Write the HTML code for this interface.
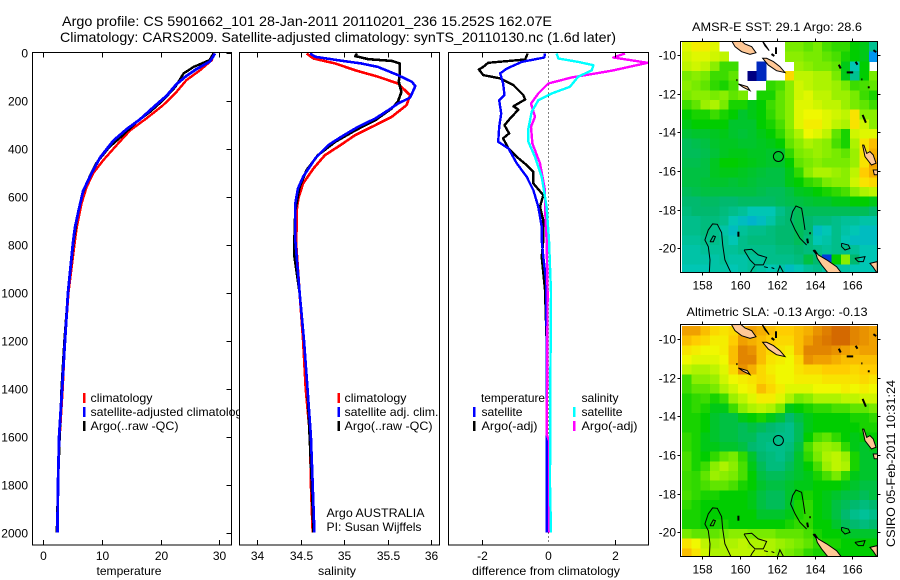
<!DOCTYPE html>
<html>
<head>
<meta charset="utf-8">
<title>Argo profile CS 5901662_101</title>
<style>
html,body{margin:0;padding:0;background:#fff;}
svg{display:block;font-family:"Liberation Sans",sans-serif;font-size:12px;fill:#000;}
.frame{fill:none;stroke:#000;stroke-width:1;shape-rendering:crispEdges;}
.bg{fill:#fff;stroke:none;}
.bar{shape-rendering:crispEdges;}
</style>
</head>
<body>
<svg id="chart" xmlns="http://www.w3.org/2000/svg" width="900" height="580" viewBox="0 0 900 580">
<defs>
<clipPath id="clip-p1"><rect x="32" y="52" width="199" height="493"/></clipPath>
<clipPath id="clip-p2"><rect x="239" y="52" width="201" height="493"/></clipPath>
<clipPath id="clip-p3"><rect x="448" y="52" width="201" height="493"/></clipPath>
<clipPath id="clip-m1"><rect x="681" y="42" width="196" height="230"/></clipPath>
<clipPath id="clip-m2"><rect x="681" y="325" width="196" height="231"/></clipPath>
</defs>
<rect x="0" y="0" width="900" height="580" fill="#fff"/>
<text x="62" y="26" font-size="14" textLength="490" lengthAdjust="spacingAndGlyphs">Argo profile: CS 5901662_101 28-Jan-2011 20110201_236 15.252S 162.07E</text>
<text x="60" y="42" font-size="14" textLength="556" lengthAdjust="spacingAndGlyphs">Climatology: CARS2009. Satellite-adjusted climatology: synTS_20110130.nc (1.6d later)</text>

<g id="p1">
<rect class="bg" x="32.5" y="52.5" width="199" height="492.5"/>
<g id="p1-series" clip-path="url(#clip-p1)"></g>
<g id="p1-ticks"></g>
<rect class="frame" x="32.5" y="52.5" width="199" height="492.5"/>
<g>
<rect class="bar" x="83" y="393" width="2.5" height="10" fill="#f00"/>
<rect class="bar" x="83" y="407" width="2.5" height="10" fill="#00f"/>
<rect class="bar" x="83" y="421" width="2.5" height="10" fill="#000"/>
<text x="90.5" y="402" textLength="62" lengthAdjust="spacingAndGlyphs">climatology</text>
<text x="90.5" y="416" textLength="158" lengthAdjust="spacingAndGlyphs">satellite-adjusted climatology</text>
<text x="90.5" y="430" textLength="88" lengthAdjust="spacingAndGlyphs">Argo(..raw -QC)</text>
</g>
<text x="129" y="575" text-anchor="middle" textLength="65" lengthAdjust="spacingAndGlyphs">temperature</text>
</g>

<g id="p2">
<rect class="bg" x="239.5" y="52.5" width="200" height="492.5"/>
<g id="p2-series" clip-path="url(#clip-p2)"></g>
<g id="p2-ticks"></g>
<rect class="frame" x="239.5" y="52.5" width="200" height="492.5"/>
<g>
<rect class="bar" x="337.5" y="393" width="2.5" height="10" fill="#f00"/>
<rect class="bar" x="337.5" y="407" width="2.5" height="10" fill="#00f"/>
<rect class="bar" x="337.5" y="421" width="2.5" height="10" fill="#000"/>
<text x="344.5" y="402" textLength="62" lengthAdjust="spacingAndGlyphs">climatology</text>
<text x="344.5" y="416" textLength="94" lengthAdjust="spacingAndGlyphs">satellite adj. clim.</text>
<text x="344.5" y="430" textLength="88" lengthAdjust="spacingAndGlyphs">Argo(..raw -QC)</text>
</g>
<text x="326.5" y="517" textLength="98" lengthAdjust="spacingAndGlyphs">Argo AUSTRALIA</text>
<text x="326.5" y="531" textLength="95" lengthAdjust="spacingAndGlyphs">PI: Susan Wijffels</text>
<text x="337" y="575" text-anchor="middle" textLength="38" lengthAdjust="spacingAndGlyphs">salinity</text>
</g>

<g id="p3">
<rect class="bg" x="448.5" y="52.5" width="200" height="492.5"/>
<g id="p3-series" clip-path="url(#clip-p3)"></g>
<g id="p3-ticks"></g>
<rect class="frame" x="448.5" y="52.5" width="200" height="492.5"/>
<g>
<text x="481" y="402" textLength="64" lengthAdjust="spacingAndGlyphs">temperature</text>
<text x="581.5" y="402" textLength="37" lengthAdjust="spacingAndGlyphs">salinity</text>
<rect class="bar" x="473" y="407" width="2.5" height="10" fill="#00f"/>
<rect class="bar" x="473" y="421" width="2.5" height="10" fill="#000"/>
<rect class="bar" x="573" y="407" width="2.5" height="10" fill="#0ff"/>
<rect class="bar" x="573" y="421" width="2.5" height="10" fill="#f0f"/>
<text x="481.5" y="416" textLength="41" lengthAdjust="spacingAndGlyphs">satellite</text>
<text x="481.5" y="430" textLength="56" lengthAdjust="spacingAndGlyphs">Argo(-adj)</text>
<text x="581.5" y="416" textLength="41" lengthAdjust="spacingAndGlyphs">satellite</text>
<text x="581.5" y="430" textLength="56" lengthAdjust="spacingAndGlyphs">Argo(-adj)</text>
</g>
<text x="546" y="575" text-anchor="middle" textLength="148" lengthAdjust="spacingAndGlyphs">difference from climatology</text>
</g>

<g id="m1">
<text x="777" y="31" text-anchor="middle" textLength="170" lengthAdjust="spacingAndGlyphs">AMSR-E SST: 29.1 Argo: 28.6</text>
<g id="m1-marks" clip-path="url(#clip-m1)"></g>
<g id="m1-ticks"></g>
<rect class="frame" x="680.5" y="41.5" width="197" height="231"/>
</g>

<g id="m2">
<text x="777" y="316" text-anchor="middle" textLength="181" lengthAdjust="spacingAndGlyphs">Altimetric SLA: -0.13 Argo: -0.13</text>
<g id="m2-marks" clip-path="url(#clip-m2)"></g>
<g id="m2-ticks"></g>
<rect class="frame" x="680.5" y="324.5" width="197" height="232"/>
</g>

<text transform="translate(895,547) rotate(-90)" textLength="167" lengthAdjust="spacingAndGlyphs">CSIRO 05-Feb-2011 10:31:24</text>
</svg>

<script>
// ---------- axis tick labels ----------
const depthTicks = [0,200,400,600,800,1000,1200,1400,1600,1800,2000];
const tempTicks = [0,10,20,30];
const salTicks = [34,34.5,35,35.5,36];
const diffTicks = [-2,0,2];
const lonTicks = [158,160,162,164,166];
const latTicks = [-10,-12,-14,-16,-18,-20];

// ---------- temperature profiles ----------
const tempClimDepth = [4,32,74,115,164,220,274,324,386,449,503,560,629,727,782,1000,1200,1400,1600,1800,2000];
const tempClimValues = [29.1,28.7,26.7,24.4,22.7,20.4,17.6,14.8,12.5,10.2,8.5,7.4,6.5,5.7,5.4,4.3,3.7,3.3,2.8,2.5,2.4];
const tempArgoDepth = [4,32,60,87,143,199,247,289,344,393,462,532,601,698,782,1000,1200,1400,1600,1800,2000];
const tempArgoValues = [29.0,28.3,25.6,23.9,22.5,20.4,18.2,15.9,13.6,11.3,9.0,7.6,6.5,5.7,5.2,4.2,3.6,3.1,2.8,2.5,2.3];
const tempSatDepth = [4,37,69,97,132,180,229,278,319,368,437,500,576,660,729,785,1000,1200,1400,1600,1800,2000];
const tempSatValues = [29.25,28.4,26.1,24.4,22.7,21.0,18.7,16.5,14.2,11.9,9.7,8.3,6.8,6.0,5.4,5.1,4.2,3.7,3.2,2.7,2.5,2.4];

// ---------- salinity profiles ----------
const salClimDepth = [4,25,46,74,101,129,178,219,268,303,344,393,428,483,546,601,643,800,1000,1200,1400,1600,1800,2000];
const salClimValues = [34.57,34.65,34.90,35.13,35.39,35.62,35.76,35.72,35.55,35.36,35.13,34.93,34.78,34.65,34.53,34.48,34.46,34.45,34.49,34.53,34.56,34.61,34.62,34.64];
const salArgoDepth = [4,15,28,35,46,87,122,164,205,233,282,324,372,428,490,560,657,782,850,1000,1200,1400,1800,2000];
const salArgoValues = [35.15,35.13,35.28,35.55,35.64,35.64,35.63,35.66,35.62,35.55,35.36,35.13,34.90,34.70,34.57,34.49,34.44,34.43,34.43,34.49,34.54,34.58,34.63,34.65];
const salSatDepth = [4,18,32,46,60,94,122,140,188,213,240,275,310,351,386,441,518,567,629,782,1000,1200,1400,1600,1800,2000];
const salSatValues = [34.61,34.67,34.93,35.20,35.39,35.62,35.78,35.82,35.76,35.62,35.51,35.36,35.16,34.97,34.82,34.67,34.53,34.47,34.44,34.44,34.49,34.54,34.58,34.62,34.64,34.66];

// ---------- difference profiles ----------
const diffTempArgoDepth = [4,29,43,60,71,94,108,136,178,196,224,238,275,303,337,358,400,435,469,497,546,594,643,699,782,851,990,1200,1600,2000];
const diffTempArgoValues = [-0.62,-0.70,-1.81,-1.96,-2.09,-1.96,-1.45,-1.05,-0.75,-0.70,-1.05,-0.90,-1.15,-1.32,-1.18,-1.36,-1.20,-0.95,-0.65,-0.45,-0.45,-0.15,-0.25,-0.15,-0.15,-0.20,-0.10,-0.05,-0.05,-0.05];
const diffTempSatDepth = [4,21,39,67,87,129,178,199,254,310,372,400,462,518,574,643,726,782,851,949,1200,1600,2000];
const diffTempSatValues = [-0.10,-0.12,-0.80,-1.25,-1.45,-1.36,-1.32,-1.48,-1.42,-1.48,-1.51,-1.20,-0.95,-0.65,-0.45,-0.30,-0.20,-0.20,-0.15,-0.07,-0.05,-0.05,-0.05];
const diffSalSatDepth = [4,25,39,53,74,101,143,171,199,247,317,372,435,518,643,782,1000,1400,1800,2000];
const diffSalSatValues = [0.25,0.30,0.90,1.36,1.31,0.90,0.65,0.10,-0.30,-0.50,-0.60,-0.60,-0.40,-0.20,-0.05,0.02,0.08,0.06,0.05,0.08];
const diffSalArgoDepth = [4,21,43,76,104,129,171,213,268,310,379,462,574,643,782,1000,1300,1590,1620,2000];
const diffSalArgoValues = [2.31,1.96,2.99,1.91,0.70,0.00,-0.30,-0.52,-0.40,-0.52,-0.48,-0.25,-0.10,-0.10,-0.05,-0.02,-0.03,-0.05,0.03,0.03];

// ---------- SST map: colour-scale index per 0.5 degree cell, north to south (null = no data) ----------
const sstGrid = [
[72,76,76,72,null,null,null,null,null,null,null,60,60,58,60,56,54,54,50,48,35],
[70,72,72,70,68,null,null,null,null,null,null,62,62,60,60,58,56,52,50,48,20],
[68,70,68,62,55,55,null,null,5,null,null,null,64,62,60,60,58,48,30,50,null],
[60,62,60,55,55,58,null,0,5,null,null,80,68,68,66,66,60,48,35,50,60],
[62,60,58,54,52,56,null,null,null,54,56,62,70,68,66,66,64,60,55,56,58],
[60,62,62,60,62,58,60,null,52,52,58,62,70,72,68,68,64,64,60,55,52],
[55,58,64,66,60,52,52,48,50,55,58,62,72,72,70,68,68,64,60,58,55],
[50,52,52,55,52,50,46,48,50,54,58,62,72,74,74,72,70,68,78,62,62],
[48,50,50,50,50,46,46,46,50,52,56,62,72,76,76,72,68,66,78,70,62],
[45,46,46,47,48,46,45,46,48,50,54,60,66,74,72,68,58,52,70,72,72],
[42,43,44,46,47,47,46,46,47,48,50,58,62,66,64,62,56,52,66,78,84],
[42,42,43,45,47,48,48,47,47,46,46,54,60,62,64,62,60,58,64,78,86],
[43,43,44,47,50,50,49,48,47,46,46,50,58,60,62,60,60,60,64,78,88],
[44,44,44,47,48,48,47,46,45,44,44,48,54,62,66,66,64,62,68,82,86],
[44,44,45,46,46,45,46,45,44,44,44,48,50,54,56,60,62,62,70,78,80],
[42,43,44,44,44,44,44,44,43,42,42,44,47,48,50,52,54,56,62,66,68],
[40,40,41,41,40,40,41,41,41,41,42,43,44,45,46,46,48,48,50,50,48],
[38,40,40,40,38,36,34,30,30,30,36,40,42,42,42,42,42,42,42,42,40],
[36,36,38,38,36,30,28,26,28,32,38,40,42,40,38,38,36,34,34,32,32],
[36,36,38,36,32,28,34,36,36,38,40,40,42,40,28,30,36,32,30,28,28],
[34,34,36,36,34,30,36,38,38,38,40,40,42,38,30,32,36,30,28,28,28],
[32,32,34,34,34,34,36,36,36,36,38,38,40,38,36,34,36,36,34,30,30],
[32,32,32,32,34,32,32,34,34,36,36,36,38,44,40,10,50,62,40,30,30],
[30,30,30,32,32,30,32,34,32,30,32,28,30,34,36,32,32,32,30,30,30]
];

// ---------- SLA map: colour-scale index per 0.5 degree cell, north to south ----------
const slaGrid = [
[88,88,84,80,78,80,86,88,86,84,82,82,84,86,90,93,96,96,92,90,88],
[84,82,80,76,76,82,88,86,84,82,80,80,84,88,92,94,96,96,92,90,88],
[78,76,74,74,76,84,92,90,84,80,78,76,84,92,92,92,90,88,86,88,88],
[74,72,72,72,74,84,92,92,84,78,76,74,80,90,88,88,86,84,84,84,84],
[68,66,66,68,72,80,90,86,80,76,74,74,78,80,80,82,82,82,80,82,82],
[55,62,62,64,70,74,76,78,80,78,74,74,76,76,76,78,78,78,78,80,78],
[55,58,58,60,66,70,74,76,84,80,76,72,72,72,74,74,74,76,74,76,74],
[52,54,55,52,55,64,68,72,76,76,72,66,60,62,66,66,66,68,68,70,70],
[52,54,52,48,48,55,62,66,68,66,60,48,50,52,54,54,56,56,58,58,60],
[52,52,50,46,44,44,48,50,52,48,45,40,44,48,50,50,50,50,52,52,54],
[52,52,50,46,44,44,42,44,42,40,38,36,42,48,50,50,50,50,50,52,52],
[54,52,48,46,44,44,42,42,38,38,36,36,42,50,56,58,54,50,48,50,50],
[54,52,48,48,46,46,44,40,38,36,36,38,44,56,62,64,62,54,48,46,48],
[56,52,50,54,58,60,54,46,40,38,36,40,46,54,60,66,68,64,52,46,46],
[56,52,55,62,66,62,56,48,42,38,38,42,46,50,56,64,68,66,52,46,46],
[55,54,58,64,62,60,56,50,44,42,42,44,46,48,52,56,60,54,48,46,46],
[55,54,56,58,58,56,52,50,46,44,44,46,48,48,50,50,50,48,46,44,44],
[56,54,52,52,50,50,50,48,44,42,42,46,50,52,50,48,46,44,44,42,44],
[54,52,50,50,50,50,50,48,44,42,42,46,52,54,50,48,44,42,40,38,40],
[52,52,50,50,50,50,50,50,46,46,46,48,52,54,50,48,44,40,36,34,36],
[52,52,50,52,52,50,50,50,50,50,50,52,54,54,50,50,46,42,40,38,40],
[60,58,58,58,60,62,62,60,60,60,58,58,58,56,52,50,50,48,46,46,46],
[78,74,68,64,66,66,68,66,66,66,64,62,60,58,54,52,52,50,50,50,50],
[84,78,70,66,66,68,68,68,68,66,62,60,58,54,52,52,50,50,50,50,50]
];

// ---------- geography (lon, lat) ----------
const landLons = [
[159.53,159.75,160.10,160.55,160.87,160.64,160.28,160.01],
[161.23,161.53,161.97,162.42,162.15,161.80,161.44],
[161.17,161.44,161.58,161.35],
[159.93,160.19,160.55,160.41],
[166.57,166.70,167.05,167.29,167.14,166.97,166.79,166.64],
[164.02,164.20,164.65,165.18,165.54,164.83,164.38,164.15],
[166.97,167.36,167.36,167.14],
[167.14,167.40,167.40,167.20]
];
const landLats = [
[-9.20,-9.57,-9.83,-9.97,-9.88,-9.57,-9.43,-9.20],
[-10.17,-10.52,-10.81,-10.91,-10.60,-10.34,-10.17],
[-9.20,-9.57,-9.78,-9.53],
[-11.50,-11.67,-11.84,-11.64],
[-14.66,-15.26,-15.69,-15.60,-15.17,-15.00,-15.09,-14.66],
[-20.09,-20.34,-20.60,-20.95,-21.40,-21.40,-20.86,-20.52],
[-20.78,-20.69,-21.30,-20.98],
[-15.95,-15.95,-16.20,-16.20]
];
const contourLons = [
[158.37,158.41,158.32,158.14,158.32,158.55,158.80,159.03,159.09,159.21,159.60],
[158.41,158.59,158.70,158.59,158.41],
[160.23,160.64,160.99,161.44,161.26,160.82,160.55,160.23],
[161.97,162.15,162.42],
[163.58,163.22,162.96,162.72,162.83,163.01,163.31,163.40,163.49],
[165.45,165.81,165.90,165.63,165.45,165.45],
[166.16,166.70,166.61,166.34,166.16],
[160.80,160.65,160.55],
[161.30,161.50],
[161.70,161.85]
];
const contourLats = [
[-21.40,-20.60,-19.91,-19.57,-19.05,-18.74,-18.76,-19.19,-19.83,-20.60,-21.40],
[-19.66,-19.36,-19.40,-19.66,-19.66],
[-20.09,-20.05,-20.34,-20.47,-20.86,-20.86,-20.60,-20.09],
[-21.40,-20.91,-21.40],
[-19.83,-19.48,-19.05,-18.53,-18.10,-17.81,-17.93,-18.45,-19.05],
[-19.74,-19.83,-20.00,-20.09,-19.91,-19.74],
[-20.52,-20.43,-20.69,-20.69,-20.52],
[-20.90,-21.10,-21.30],
[-20.95,-21.00],
[-21.00,-21.05]
];
const isletLons = [
[159.93,159.93],[163.61,163.65],[166.57,166.75],[165.72,166.07],[166.50,166.56],
[166.85,166.95],[161.94,161.94],[167.15,167.30],[159.82,159.88],[163.72,163.80],
[163.94,164.12],[165.30,165.40],[166.20,166.30],[161.70,161.85]
];
const isletLats = [
[-19.14,-19.40],[-19.50,-19.74],[-13.10,-13.50],[-10.90,-10.90],[-11.26,-11.26],
[-11.67,-11.67],[-9.60,-9.95],[-9.75,-9.85],[-11.30,-11.30],[-19.22,-19.22],
[-20.09,-20.30],[-10.50,-10.70],[-10.35,-10.50],[-9.95,-10.05]
];
const profileLon = [162.07];
const profileLat = [-15.25];

// ---------- scales ----------
const NS = 'http://www.w3.org/2000/svg';
function depthY(d){ return 52.5 + d * 0.24; }
function tempX(v){ return 43.3 + v * 5.87; }
function salX(v){ return 257 + (v - 34) * 87; }
function diffX(v){ return 548.3 + v * 33.2; }
function lonX(v){ return 702.3 + (v - 158) * 18.7; }
function latY1(v){ return 55 + (-10 - v) * 19.33; }
function latY2(v){ return 339 + (-10 - v) * 19.33; }

function colorOf(v){
  const stops = [[0,0,0,130],[5,0,40,190],[10,0,60,220],[20,0,150,240],[30,0,198,180],[40,0,185,110],
    [50,0,205,0],[60,120,235,0],[68,190,245,0],[74,240,248,0],[82,255,205,0],[88,240,160,0],[96,212,105,0]];
  for (let i = 1; i < stops.length; i++) {
    if (v <= stops[i][0]) {
      const a = stops[i-1], b = stops[i], t = (v - a[0]) / (b[0] - a[0]);
      return 'rgb(' + [1,2,3].map(k => Math.round(a[k] + (b[k] - a[k]) * t)).join(',') + ')';
    }
  }
  return 'rgb(212,105,0)';
}

function make(parent, tag, attrs){
  const el = document.createElementNS(NS, tag);
  for (const k in attrs) el.setAttribute(k, attrs[k]);
  parent.appendChild(el);
  return el;
}

function drawProfile(groupId, xFn, depths, values, color, width, name){
  const pts = depths.map((d, i) => xFn(values[i]).toFixed(1) + ',' + depthY(d).toFixed(1)).join(' ');
  const el = make(document.getElementById(groupId), 'polyline', {
    points: pts, fill: 'none', stroke: color, 'stroke-width': width, 'shape-rendering': 'crispEdges', 'stroke-linejoin': 'round'
  });
  
  
}

function tickLine(parent, x1, y1, x2, y2, name){
  const el = make(parent, 'line', { x1: x1, y1: y1, x2: x2, y2: y2, stroke: '#000', 'stroke-width': 1, 'shape-rendering': 'crispEdges' });
  
  
}

function tickText(parent, x, y, str, anchor, name){
  const el = make(parent, 'text', { x: x, y: y, 'text-anchor': anchor });
  el.textContent = str;
  
  
}

function drawXAxis(groupId, xFn, ticks, name, skipInner){
  const g = document.getElementById(groupId);
  ticks.forEach(t => {
    const x = Math.round(xFn(t)) + 0.5;
    if (!(skipInner && t === 0)) {
      tickLine(g, x, 52.5, x, 57.5, name + '-top-tick');
      tickLine(g, x, 545, x, 540, name + '-bottom-tick');
    }
    tickText(g, x, 560, String(t), 'middle', name + '-tick-label');
  });
}

// ---------- profile panels ----------
drawProfile('p1-series', tempX, tempClimDepth, tempClimValues, '#f00', 2.4, 'line-temperature-climatology');
drawProfile('p1-series', tempX, tempArgoDepth, tempArgoValues, '#000', 2.4, 'line-temperature-argo');
drawProfile('p1-series', tempX, tempSatDepth, tempSatValues, '#00f', 2.8, 'line-temperature-satellite-adjusted');

drawProfile('p2-series', salX, salClimDepth, salClimValues, '#f00', 2.6, 'line-salinity-climatology');
drawProfile('p2-series', salX, salArgoDepth, salArgoValues, '#000', 2.6, 'line-salinity-argo');
drawProfile('p2-series', salX, salSatDepth, salSatValues, '#00f', 2.6, 'line-salinity-satellite-adjusted');

const zeroLine = make(document.getElementById('p3-series'), 'line', {
  x1: diffX(0), y1: depthY(0), x2: diffX(0), y2: 545, stroke: '#000', 'stroke-width': 1, 'stroke-dasharray': '1 3', 'shape-rendering': 'crispEdges'
});


drawProfile('p3-series', diffX, diffTempArgoDepth, diffTempArgoValues, '#000', 2.4, 'line-difference-temperature-argo');
drawProfile('p3-series', diffX, diffTempSatDepth, diffTempSatValues, '#00f', 2.4, 'line-difference-temperature-satellite');
drawProfile('p3-series', diffX, diffSalArgoDepth, diffSalArgoValues, '#f0f', 2.4, 'line-difference-salinity-argo');
drawProfile('p3-series', diffX, diffSalSatDepth, diffSalSatValues, '#0ff', 2.4, 'line-difference-salinity-satellite');

drawXAxis('p1-ticks', tempX, tempTicks, 'temperature-x');
drawXAxis('p2-ticks', salX, salTicks, 'salinity-x');
drawXAxis('p3-ticks', diffX, diffTicks, 'difference-x', true);

const p1Ticks = document.getElementById('p1-ticks');
depthTicks.forEach(d => {
  const y = Math.round(depthY(d)) + 0.5;
  tickLine(p1Ticks, 231.5, y, 226.5, y, 'depth-tick');
  tickText(p1Ticks, 28, y + 4, String(d), 'end', 'depth-tick-label');
});

// ---------- maps ----------
function drawMap(marksId, ticksId, grid, yFn, prefix, yTop, yBottom){
  const g = document.getElementById(marksId);
  const lon0 = 156.91, lat0 = -9.33, step = 0.5;
  grid.forEach((row, r) => {
    row.forEach((v, c) => {
      if (v === null) return;
      const x0 = lonX(lon0 + c * step), x1 = lonX(lon0 + (c + 1) * step);
      const y0 = yFn(lat0 - r * step), y1 = yFn(lat0 - (r + 1) * step);
      const cell = make(g, 'rect', { x: x0.toFixed(2), y: y0.toFixed(2), width: (x1 - x0 + 0.4).toFixed(2), height: (y1 - y0 + 0.4).toFixed(2), fill: colorOf(v), 'shape-rendering': 'crispEdges' });
      
      
    });
  });
  landLons.forEach((lons, i) => {
    const pts = lons.map((lon, j) => lonX(lon).toFixed(1) + ',' + yFn(landLats[i][j]).toFixed(1)).join(' ');
    const land = make(g, 'polygon', { points: pts, fill: '#ffc896', stroke: '#000', 'stroke-width': 1 });
    
    
  });
  contourLons.forEach((lons, i) => {
    const pts = lons.map((lon, j) => lonX(lon).toFixed(1) + ',' + yFn(contourLats[i][j]).toFixed(1)).join(' ');
    const contour = make(g, 'polyline', { points: pts, fill: 'none', stroke: '#000', 'stroke-width': 1 });
    
    
  });
  isletLons.forEach((lons, i) => {
    const pts = lons.map((lon, j) => lonX(lon).toFixed(1) + ',' + yFn(isletLats[i][j]).toFixed(1)).join(' ');
    const islet = make(g, 'polyline', { points: pts, fill: 'none', stroke: '#000', 'stroke-width': 2 });
    
    
  });
  const marker = make(g, 'circle', { cx: lonX(profileLon[0]).toFixed(1), cy: yFn(profileLat[0]).toFixed(1), r: 5, fill: 'none', stroke: '#000', 'stroke-width': 1 });
  
  

  const t = document.getElementById(ticksId);
  lonTicks.forEach(lon => {
    const x = Math.round(lonX(lon)) + 0.5;
    tickLine(t, x, yTop, x, yTop - 3, prefix + '-lon-top-tick');
    tickLine(t, x, yBottom, x, yBottom + 3, prefix + '-lon-bottom-tick');
    tickText(t, x, yBottom + 17, String(lon), 'middle', prefix + '-lon-tick-label');
  });
  latTicks.forEach(lat => {
    const y = Math.round(yFn(lat)) + 0.5;
    tickLine(t, 680.5, y, 677.5, y, prefix + '-lat-left-tick');
    tickLine(t, 877.5, y, 880.5, y, prefix + '-lat-right-tick');
    tickText(t, 676, y + 4, String(lat), 'end', prefix + '-lat-tick-label');
  });
}
drawMap('m1-marks', 'm1-ticks', sstGrid, latY1, 'sst', 41.5, 272.5);
drawMap('m2-marks', 'm2-ticks', slaGrid, latY2, 'sla', 324.5, 556.5);
</script>
</body>
</html>
